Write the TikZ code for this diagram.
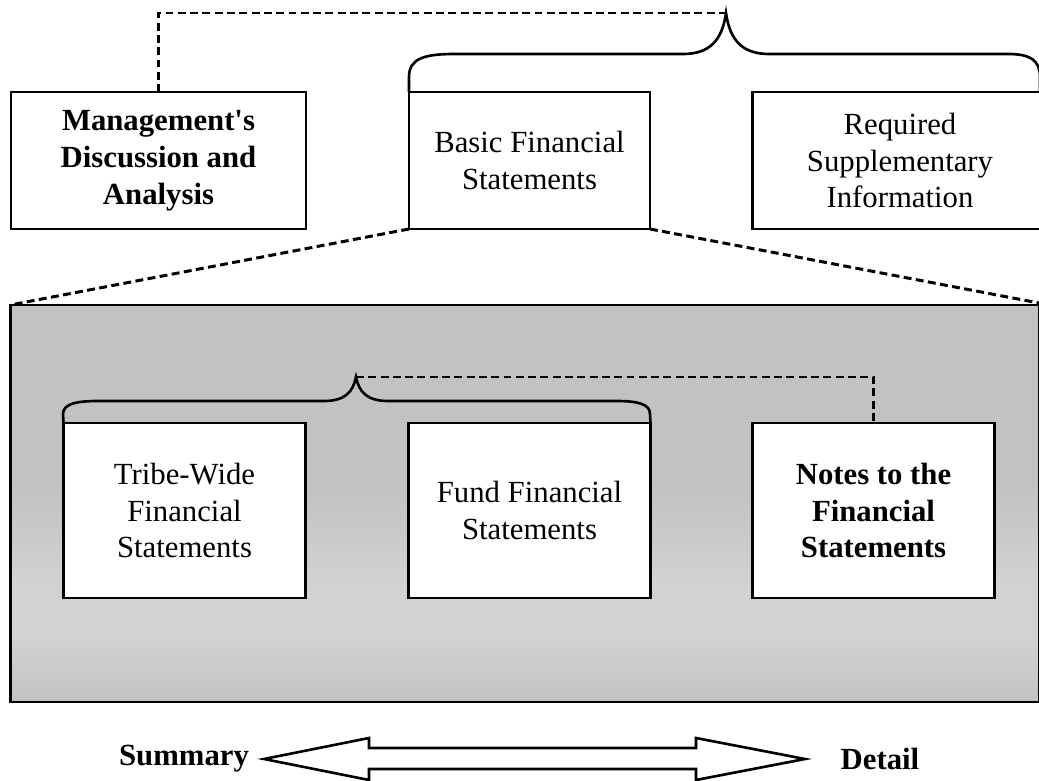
\documentclass[tikz,border=0pt]{standalone}
\usepackage{fontspec}
\setmainfont{Liberation Serif}
\usetikzlibrary{calc,positioning}
\definecolor{paneldark}{RGB}{194,194,194}
\definecolor{panellight}{RGB}{210,210,210}
\pgfdeclareverticalshading{panelshade}{100bp}{color(0bp)=(paneldark); color(25bp)=(paneldark);
  color(33bp)=(panellight); color(40bp)=(panellight); color(52bp)=(paneldark); color(100bp)=(paneldark)}
\tikzset{
  box/.style={draw, line width=1.6pt, fill=white, align=center, inner sep=0pt, outer sep=0pt,
              font=\fontsize{17.5}{21}\selectfont},
  bigbox/.style={box, minimum width=5.9cm, minimum height=2.74cm},
  midbox/.style={box, minimum width=4.82cm, minimum height=2.74cm},
  innerbox/.style={box, minimum width=4.84cm, minimum height=3.5cm},
  link/.style={line width=1.7pt, dash pattern=on 4.5pt off 2.5pt},
  brace/.style={line width=1.5pt},
  endlabel/.style={font=\fontsize{17.5}{21}\selectfont\bfseries},
}

\begin{document}
\begin{tikzpicture}[x=0.02cm, y=-0.02cm]
		%%%%% START %%%%%
		\useasboundingbox (0,0) rectangle (1039,781);
		
		% top row
		\node[bigbox, font=\fontsize{17.5}{21}\selectfont\bfseries] (mda) at (158.5,160.5) {Management\textquotesingle s\\Discussion and\\Analysis};
		\node[midbox] (bfs) at (529.5,160.5) {Basic Financial\\Statements};
		\node[bigbox] (rsi) at (900,160.5) {Required\\Supplementary\\Information};
		
		% shaded panel
		\node[draw, line width=1.6pt, outer sep=0pt, minimum width=20.6cm, minimum height=7.94cm,
		      shading=panelshade] (basic) at (525,503.5) {};
		
		\draw[link] (bfs.south west) -- (basic.north west);
		\draw[link] (bfs.south east) -- (1039,303);
		
		% inner row
		\node[innerbox] (tw) at (184.5,510.5) {Tribe-Wide\\Financial\\Statements};
		\node[innerbox] (ffs) at (529.5,510.5) {Fund Financial\\Statements};
		\node[innerbox, font=\fontsize{17.5}{21}\selectfont\bfseries] (nfs) at (873.5,510.5) {Notes to the\\Financial\\Statements};
		
		% top brace
		\coordinate (toptip) at (726,13);
		\draw[brace] (bfs.north west) -- (409,77) .. controls (409,58) and (425,54) .. (455,54)
		  -- (683,54) .. controls (708,54) and (722,42) .. (toptip)
		  .. controls (730,42) and (744,54) .. (769,54)
		  -- (1008,54) .. controls (1030,54) and (1040,60) .. (1040,77) -- (1040,92);
		\draw[link] (mda.north) |- (toptip);
		
		% inner brace
		\coordinate (innertip) at (356,377);
		\draw[brace] (tw.north west) -- (63,414) .. controls (63,404) and (76,401) .. (98,401)
		  -- (324,401) .. controls (345,401) and (353,392) .. (innertip)
		  .. controls (359,392) and (367,401) .. (388,401)
		  -- (616,401) .. controls (638,401) and (650,404) .. (650,414) -- (ffs.north east);
		\draw[link] (innertip) -| (nfs.north);
		
		% summary / detail arrow
		\coordinate (lefttip) at (264,759);
		\coordinate (righttip) at (805,759);
		\draw[line width=1.5pt] (lefttip) -- (369,738) -- (369,748) -- (696,748) -- (696,738) -- (righttip)
		  -- (696,780) -- (696,769) -- (369,769) -- (369,780) -- cycle;
		\node[endlabel] (summary) at (184,759) {Summary};
		\node[endlabel] (detail) at (880,759) {Detail};
		%%%%% END %%%%%
\end{tikzpicture}
\end{document}
